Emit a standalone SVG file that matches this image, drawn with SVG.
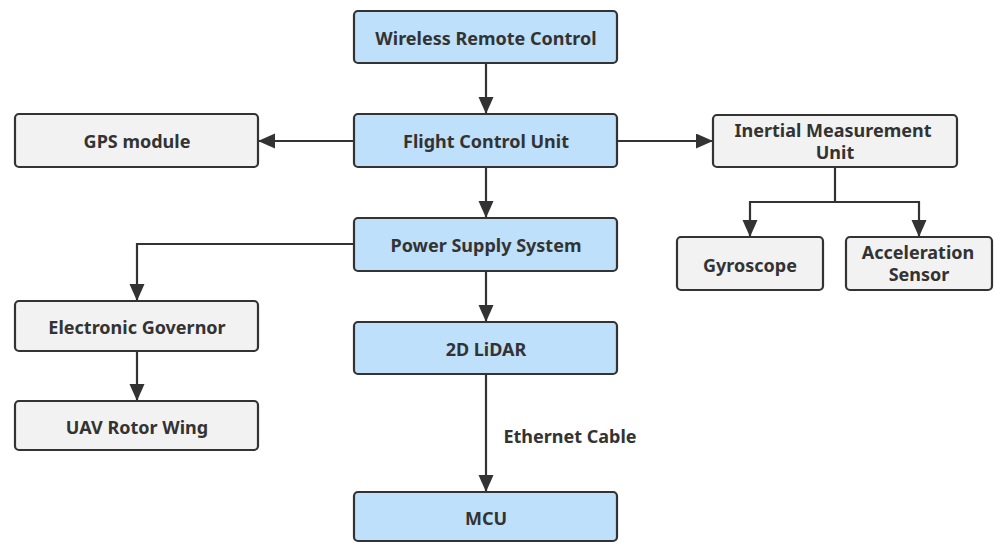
<svg xmlns="http://www.w3.org/2000/svg" width="994" height="543" viewBox="0 0 994 543">
  <defs>
    <marker id="arrow" markerUnits="userSpaceOnUse" markerWidth="18" markerHeight="16" refX="17" refY="7.5" orient="auto">
      <path d="M0,0 L17,7.5 L0,15 Z" fill="#333333"/>
    </marker>
    <style>
      .box { stroke: #333333; stroke-width: 2.2; }
      .blue { fill: #bfe0fa; }
      .gray { fill: #f2f2f2; }
      .lbl { font-family: "Noto Sans", "Open Sans", "DejaVu Sans", sans-serif; font-weight: bold; font-size: 18px; fill: #333333; text-anchor: middle; dominant-baseline: central; }
      .edge { fill: none; stroke: #333333; stroke-width: 2.2; }
    </style>
  </defs>
  <rect width="994" height="543" fill="#ffffff"/>

  <g id="connectors">
    <path class="edge" d="M486,63 V114" marker-end="url(#arrow)"/>
    <path class="edge" d="M354,141 H258" marker-end="url(#arrow)"/>
    <path class="edge" d="M617,141 H713" marker-end="url(#arrow)"/>
    <path class="edge" d="M486,167 V218" marker-end="url(#arrow)"/>
    <path class="edge" d="M835,167 V202 H750 V237" marker-end="url(#arrow)"/>
    <path class="edge" d="M835,202 H919 V237" marker-end="url(#arrow)"/>
    <path class="edge" d="M354,244 H137 V301" marker-end="url(#arrow)"/>
    <path class="edge" d="M137,351 V401" marker-end="url(#arrow)"/>
    <path class="edge" d="M486,271 V322" marker-end="url(#arrow)"/>
    <path class="edge" d="M486,374 V492" marker-end="url(#arrow)"/>
    <text class="lbl" x="570" y="436">Ethernet Cable</text>
  </g>

  <g id="wireless-remote-control">
    <rect class="box blue" x="354" y="11" width="263" height="52" rx="4"/>
    <text class="lbl" x="486" y="38">Wireless Remote Control</text>
  </g>
  <g id="flight-control-unit">
    <rect class="box blue" x="354" y="114" width="263" height="53" rx="4"/>
    <text class="lbl" x="486" y="141">Flight Control Unit</text>
  </g>
  <g id="gps-module">
    <rect class="box gray" x="15" y="114" width="243" height="53" rx="4"/>
    <text class="lbl" x="137" y="141">GPS module</text>
  </g>
  <g id="imu">
    <rect class="box gray" x="713" y="115" width="244" height="52" rx="4"/>
    <text class="lbl" x="833" y="130">Inertial Measurement</text>
    <text class="lbl" x="835" y="152">Unit</text>
  </g>
  <g id="gyroscope">
    <rect class="box gray" x="677" y="237" width="146" height="53" rx="4"/>
    <text class="lbl" x="750" y="265">Gyroscope</text>
  </g>
  <g id="acceleration-sensor">
    <rect class="box gray" x="846" y="237" width="146" height="53" rx="4"/>
    <text class="lbl" x="918" y="252">Acceleration</text>
    <text class="lbl" x="919" y="274">Sensor</text>
  </g>
  <g id="power-supply-system">
    <rect class="box blue" x="354" y="218" width="263" height="53" rx="4"/>
    <text class="lbl" x="486" y="245">Power Supply System</text>
  </g>
  <g id="electronic-governor">
    <rect class="box gray" x="15" y="301" width="243" height="50" rx="4"/>
    <text class="lbl" x="137" y="327">Electronic Governor</text>
  </g>
  <g id="uav-rotor-wing">
    <rect class="box gray" x="15" y="401" width="243" height="49" rx="4"/>
    <text class="lbl" x="137" y="427">UAV Rotor Wing</text>
  </g>
  <g id="lidar-2d">
    <rect class="box blue" x="354" y="322" width="263" height="52" rx="4"/>
    <text class="lbl" x="486" y="349">2D LiDAR</text>
  </g>
  <g id="mcu">
    <rect class="box blue" x="354" y="492" width="263" height="49" rx="4"/>
    <text class="lbl" x="486" y="518">MCU</text>
  </g>
</svg>
